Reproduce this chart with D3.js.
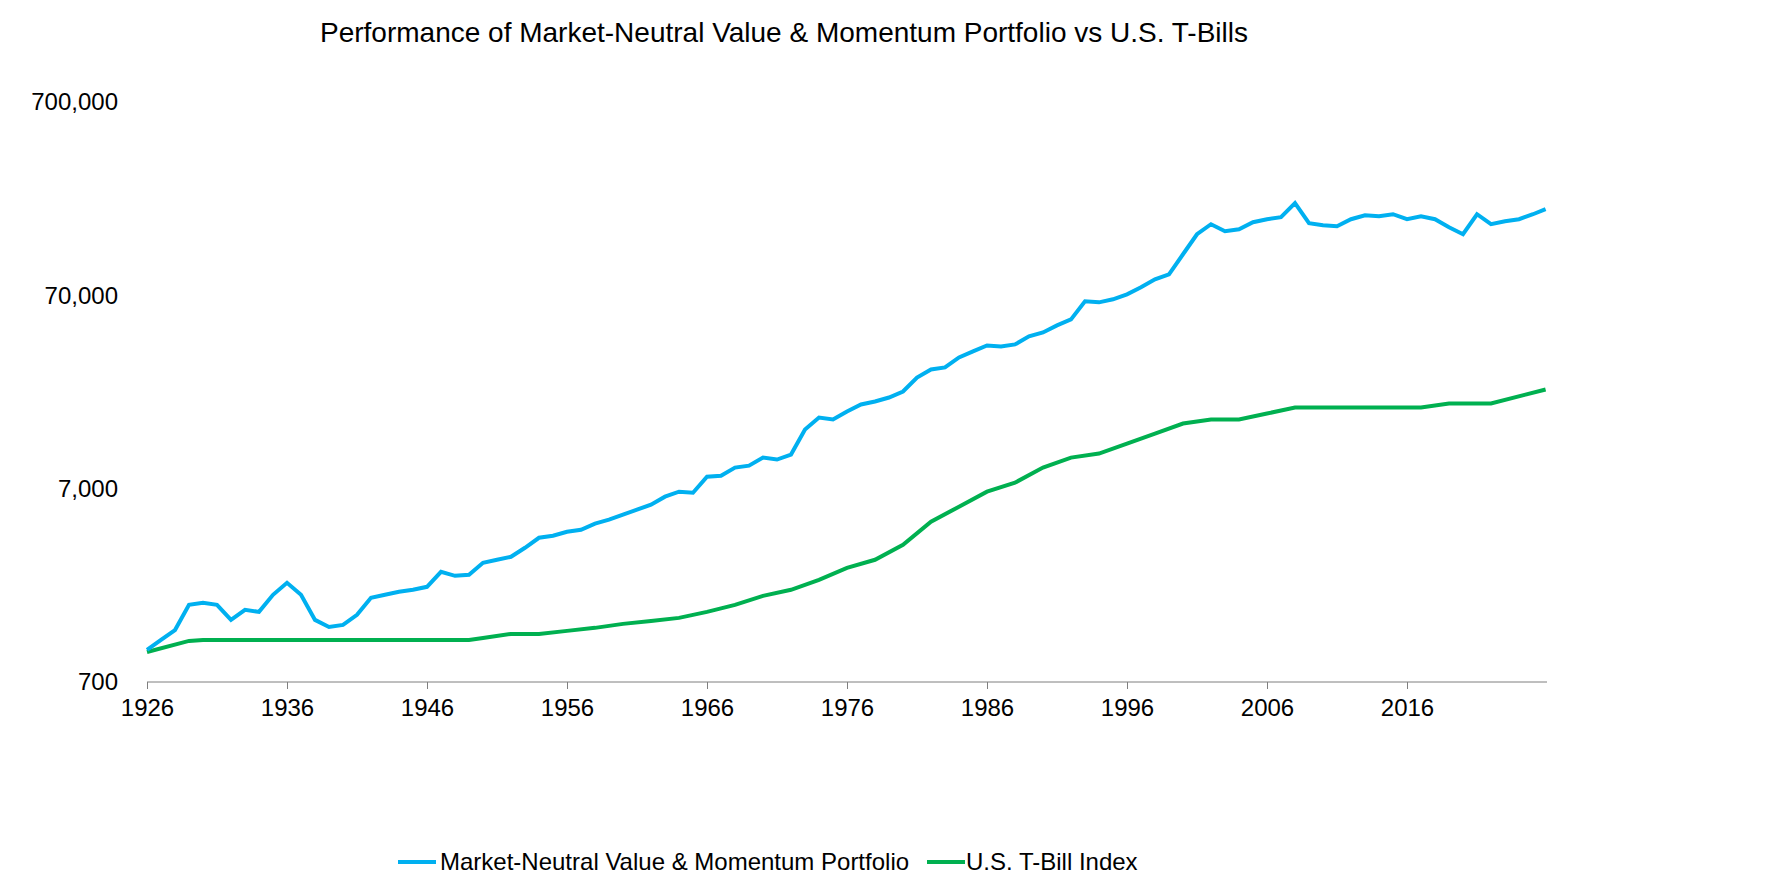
<!DOCTYPE html>
<html><head><meta charset="utf-8">
<script src="https://cdn.jsdelivr.net/npm/d3@7/dist/d3.min.js"></script>
<style>body{margin:0;background:#fff}svg{font-family:"Liberation Sans",Arial,sans-serif}</style>
</head><body><svg id="c" width="1772" height="886"></svg>
<script>
const title = "Performance of Market-Neutral Value & Momentum Portfolio vs U.S. T-Bills";
const seriesNames = ["Market-Neutral Value & Momentum Portfolio", "U.S. T-Bill Index"];
const colors = ["#00B0F0", "#00B050"];
const yTicks = [700, 7000, 70000, 700000];
const xTicks = [1926, 1936, 1946, 1956, 1966, 1976, 1986, 1996, 2006, 2016];
const mnYears = [1926,1927,1928,1929,1930,1931,1932,1933,1934,1935,1936,1937,1938,1939,1940,1941,1942,1943,1944,1945,1946,1947,1948,1949,1950,1951,1952,1953,1954,1955,1956,1957,1958,1959,1960,1961,1962,1963,1964,1965,1966,1967,1968,1969,1970,1971,1972,1973,1974,1975,1976,1977,1978,1979,1980,1981,1982,1983,1984,1985,1986,1987,1988,1989,1990,1991,1992,1993,1994,1995,1996,1997,1998,1999,2000,2001,2002,2003,2004,2005,2006,2007,2008,2009,2010,2011,2012,2013,2014,2015,2016,2017,2018,2019,2020,2021,2022,2023,2024,2025,2025.9];
const mnValues = [1025,1155,1300,1754,1797,1754,1467,1653,1614,1977,2280,1977,1467,1349,1382,1558,1907,1977,2049,2099,2175,2600,2479,2510,2895,3001,3110,3462,3901,3996,4190,4291,4612,4836,5133,5450,5784,6363,6754,6670,8077,8170,8996,9210,10134,9900,10506,14150,16330,15950,17540,19070,19760,20730,22260,26300,28950,29650,33410,35890,38550,38100,39000,42930,45010,48950,52570,65170,64400,66750,70840,77000,84730,89950,114200,144900,163300,150200,153800,167200,173300,177500,209800,165300,161300,159400,173300,181700,179500,183900,173300,179500,173300,157500,144900,183900,163300,169300,173300,183900,195300];
const tbYears = [1926,1929,1930,1949,1950,1952,1954,1956,1958,1960,1962,1964,1966,1968,1970,1972,1974,1976,1978,1980,1982,1984,1986,1988,1990,1992,1994,1996,1998,2000,2002,2004,2006,2008,2017,2019,2022,2025.9];
const tbValues = [1001,1142,1155,1155,1183,1241,1241,1287,1334,1399,1449,1502,1614,1754,1953,2099,2364,2727,3001,3588,4722,5650,6754,7520,8996,10134,10630,11980,13490,15200,15950,15950,17130,18400,18400,19290,19290,22810];

const svg = d3.select("#c");
const x = d3.scaleLinear().domain([1926, 2026]).range([147, 1547]);
const y = d3.scaleLog().domain([700, 700000]).range([682, 102]);
const ff = "Liberation Sans, Arial, sans-serif";

svg.append("text").attr("x", 784).attr("y", 42).attr("text-anchor", "middle")
  .attr("font-size", 28).attr("fill", "#000").text(title);

const yAx = svg.append("g").attr("transform", "translate(147,0)")
  .call(d3.axisLeft(y).tickValues(yTicks).tickFormat(d3.format(",")).tickSize(0).tickPadding(29));
yAx.select(".domain").remove();
yAx.selectAll("text").attr("font-size", 24).attr("fill", "#000").attr("font-family", ff);

const xAx = svg.append("g").attr("transform", "translate(0,682)")
  .call(d3.axisBottom(x).tickValues(xTicks).tickFormat(d3.format("d")).tickSize(7).tickPadding(10));
xAx.select(".domain").attr("stroke", "#7f7f7f").attr("d", "M147,0H1547");
xAx.selectAll("line").attr("stroke", "#7f7f7f");
xAx.selectAll("text").attr("font-size", 24).attr("fill", "#000").attr("font-family", ff);

const line = d3.line().x(d => x(d[0])).y(d => y(d[1]));
svg.append("path").datum(tbYears.map((v, i) => [v, tbValues[i]]))
  .attr("d", line).attr("fill", "none").attr("stroke", colors[1]).attr("stroke-width", 4);
svg.append("path").datum(mnYears.map((v, i) => [v, mnValues[i]]))
  .attr("d", line).attr("fill", "none").attr("stroke", colors[0]).attr("stroke-width", 4);

const leg = [[398, 440], [927, 966]];
seriesNames.forEach((n, i) => {
  svg.append("line").attr("x1", leg[i][0]).attr("x2", leg[i][0] + 38).attr("y1", 862).attr("y2", 862)
    .attr("stroke", colors[i]).attr("stroke-width", 4);
  svg.append("text").attr("x", leg[i][1]).attr("y", 870).attr("font-size", 24).attr("fill", "#000").text(n);
});
</script></body></html>
